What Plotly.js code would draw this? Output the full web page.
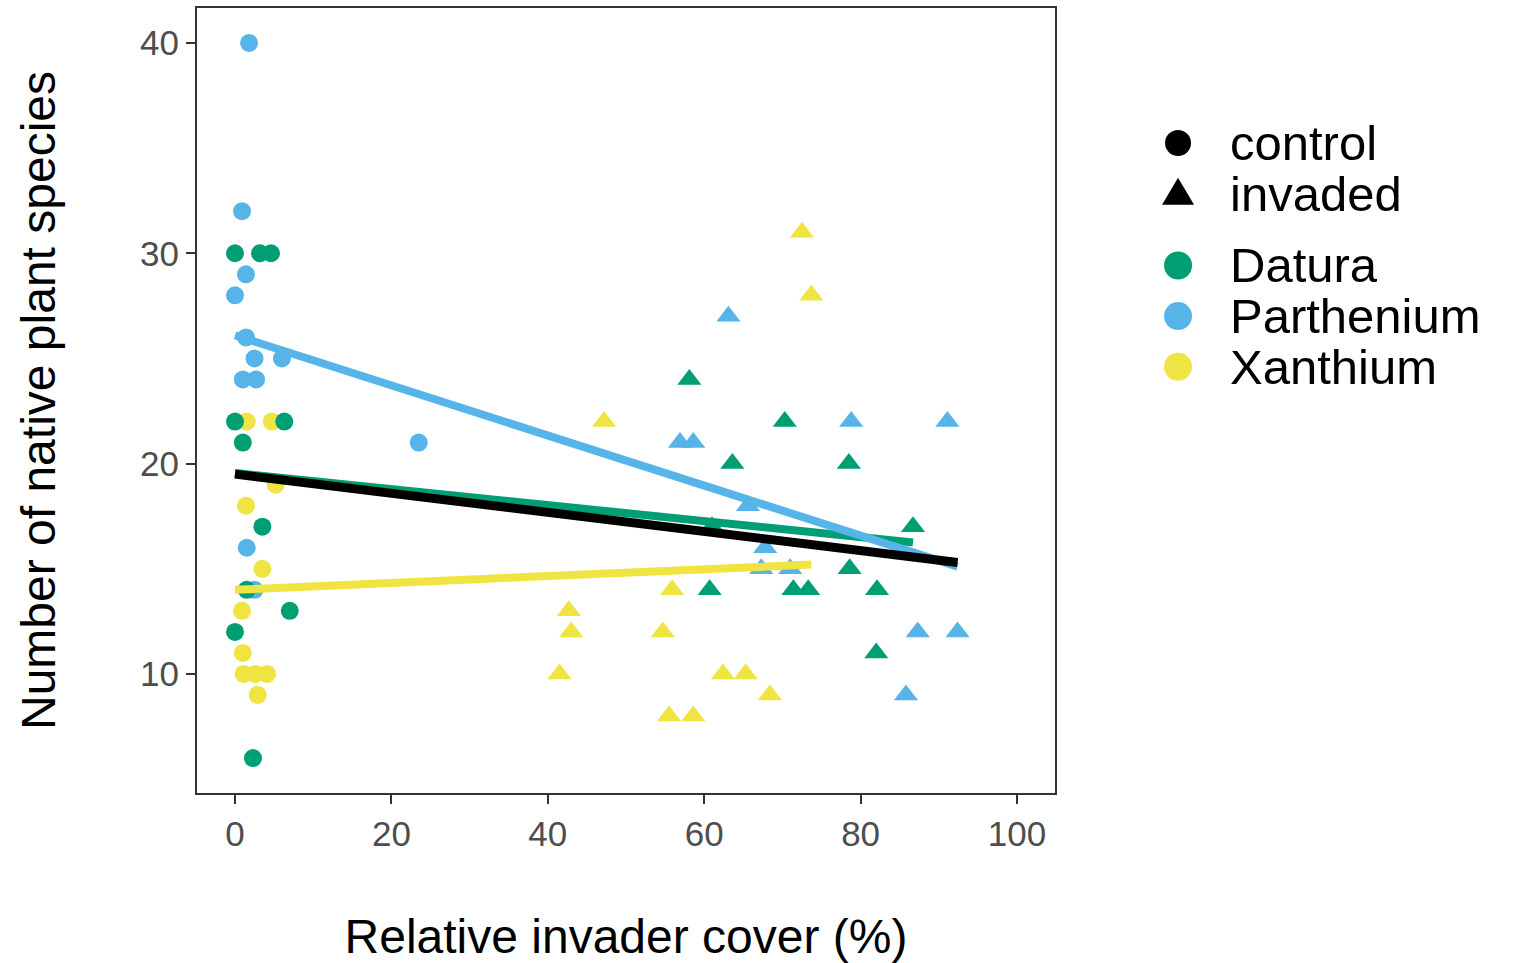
<!DOCTYPE html>
<html>
<head>
<meta charset="utf-8">
<script src="https://cdn.plot.ly/plotly-3.0.1.min.js"></script>
<style>html,body{margin:0;padding:0;background:#fff;}#chart{width:1514px;height:963px;}</style>
</head>
<body>
<div id="chart"></div>
<script>
// ---- data ----
const daturaCtrlX = [0, 3.2, 4.6, 0, 6.3, 1.0, 3.5, 1.5, 7.0, 0, 2.3];
const daturaCtrlY = [30, 30, 30, 22, 22, 21, 17, 14, 13, 12, 6];
const daturaInvX  = [58.1, 70.3, 63.6, 78.5, 61.0, 86.7, 78.6, 60.7, 71.4, 73.3, 82.1, 82.0];
const daturaInvY  = [24, 22, 20, 20, 17, 17, 15, 14, 14, 14, 14, 11];

const partheniumCtrlX = [1.8, 0.9, 1.4, 0, 1.4, 2.5, 6.0, 1.0, 2.7, 23.5, 1.5, 2.5];
const partheniumCtrlY = [40, 32, 29, 28, 26, 25, 25, 24, 24, 21, 16, 14];
const partheniumInvX  = [63.1, 56.9, 58.6, 78.8, 91.1, 65.6, 67.8, 67.3, 71.0, 87.3, 92.4, 85.8];
const partheniumInvY  = [27, 21, 21, 22, 22, 18, 16, 15, 15, 12, 12, 9];

const xanthiumCtrlX = [1.5, 4.7, 5.2, 1.4, 3.5, 0.9, 1.0, 1.1, 2.6, 4.1, 2.9];
const xanthiumCtrlY = [22, 22, 19, 18, 15, 13, 11, 10, 10, 10, 9];
const xanthiumInvX  = [72.5, 73.7, 47.2, 55.9, 42.7, 43.0, 54.7, 41.5, 62.4, 65.3, 68.4, 55.5, 58.6];
const xanthiumInvY  = [31, 28, 22, 14, 13, 12, 12, 10, 10, 10, 9, 8, 8];

// fitted lines (end points)
const daturaFitX = [0, 86.7],     daturaFitY = [19.55, 16.25];
const partheniumFitX = [0, 92.4], partheniumFitY = [26.1, 15.1];
const xanthiumFitX = [0, 73.7],   xanthiumFitY = [14.0, 15.2];
const overallFitX = [0, 92.4],    overallFitY = [19.5, 15.3];

const xTicks = [0, 20, 40, 60, 80, 100];
const yTicks = [10, 20, 30, 40];

const legendLabels = ['control', 'invaded', 'Datura', 'Parthenium', 'Xanthium'];

// ---- styles ----
const colors = {Datura: '#009E73', Parthenium: '#56B4E9', Xanthium: '#F0E442'};
const CIRCLE = 18, TRI = 21, LW = 8;

function pts(x, y, color, symbol, name) {
  return {type: 'scatter', mode: 'markers', x: x, y: y, name: name, showlegend: false,
    hoverinfo: 'x+y',
    marker: {color: color, symbol: symbol, size: symbol === 'circle' ? CIRCLE : TRI, line: {width: 0}}};
}
function fit(x, y, color, name, w) {
  return {type: 'scatter', mode: 'lines', x: x, y: y, name: name, showlegend: false,
    line: {color: color, width: w}};
}

const traces = [
  pts(xanthiumCtrlX, xanthiumCtrlY, colors.Xanthium, 'circle', 'Xanthium control'),
  pts(xanthiumInvX, xanthiumInvY, colors.Xanthium, 'triangle-up', 'Xanthium invaded'),
  pts(partheniumCtrlX, partheniumCtrlY, colors.Parthenium, 'circle', 'Parthenium control'),
  pts(partheniumInvX, partheniumInvY, colors.Parthenium, 'triangle-up', 'Parthenium invaded'),
  pts(daturaCtrlX, daturaCtrlY, colors.Datura, 'circle', 'Datura control'),
  pts(daturaInvX, daturaInvY, colors.Datura, 'triangle-up', 'Datura invaded'),
  fit(daturaFitX, daturaFitY, colors.Datura, 'Datura fit', LW),
  fit(xanthiumFitX, xanthiumFitY, colors.Xanthium, 'Xanthium fit', LW),
  fit(partheniumFitX, partheniumFitY, colors.Parthenium, 'Parthenium fit', LW),
  fit(overallFitX, overallFitY, '#000000', 'Overall fit', 9)
];

// ---- custom legend (large symbols) ----
const legendColors = ['#000000', '#000000', colors.Datura, colors.Parthenium, colors.Xanthium];
const legendShapesKind = ['circle', 'triangle', 'circle', 'circle', 'circle'];
const legTop = 0.828, legStep = 0.0645, legGap = 0.027;
const symX = 1.1434, txtX = 1.2016;
const shapes = [], annotations = [];
legendLabels.forEach(function (lab, i) {
  const y = legTop - i * legStep - (i >= 2 ? legGap : 0);
  if (legendShapesKind[i] === 'circle') {
    const r = (i < 2) ? 13 : 14;
    shapes.push({type: 'circle', xref: 'paper', yref: 'paper', xsizemode: 'pixel', ysizemode: 'pixel',
      xanchor: symX, yanchor: y, x0: -r, x1: r, y0: -r, y1: r,
      fillcolor: legendColors[i], line: {width: 0}});
  } else {
    shapes.push({type: 'path', xref: 'paper', yref: 'paper', xsizemode: 'pixel', ysizemode: 'pixel',
      xanchor: symX, yanchor: y, path: 'M -16 -11 L 16 -11 L 0 16 Z',
      fillcolor: legendColors[i], line: {width: 0}});
  }
  annotations.push({xref: 'paper', yref: 'paper', x: txtX, y: y, xanchor: 'left', yanchor: 'middle',
    text: lab, showarrow: false, font: {family: 'Liberation Sans, Arial, sans-serif', size: 49, color: '#000'}});
});

const layout = {
  width: 1514, height: 963,
  margin: {l: 197, r: 459, t: 8, b: 170},
  paper_bgcolor: '#fff', plot_bgcolor: '#fff',
  font: {family: 'Liberation Sans, Arial, sans-serif'},
  showlegend: false,
  xaxis: {
    range: [-4.86, 104.86], tickvals: xTicks, ticktext: xTicks.map(String),
    showgrid: false, zeroline: false, showline: true, mirror: true, linecolor: '#333', linewidth: 2,
    ticks: 'outside', ticklen: 9, tickwidth: 2, tickcolor: '#333',
    tickfont: {size: 35, color: '#4D4D4D'},
    title: {text: 'Relative invader cover (%)', font: {size: 48, color: '#000'}, standoff: 68}
  },
  yaxis: {
    range: [4.34, 41.66], tickvals: yTicks, ticktext: yTicks.map(String),
    showgrid: false, zeroline: false, showline: true, mirror: true, linecolor: '#333', linewidth: 2,
    ticks: 'outside', ticklen: 9, tickwidth: 2, tickcolor: '#333',
    tickfont: {size: 35, color: '#4D4D4D'},
    title: {text: 'Number of native plant species', font: {size: 48, color: '#000'}, standoff: 69}
  },
  shapes: shapes,
  annotations: annotations
};

Plotly.newPlot('chart', traces, layout, {displayModeBar: false, staticPlot: true});
</script>
</body>
</html>
